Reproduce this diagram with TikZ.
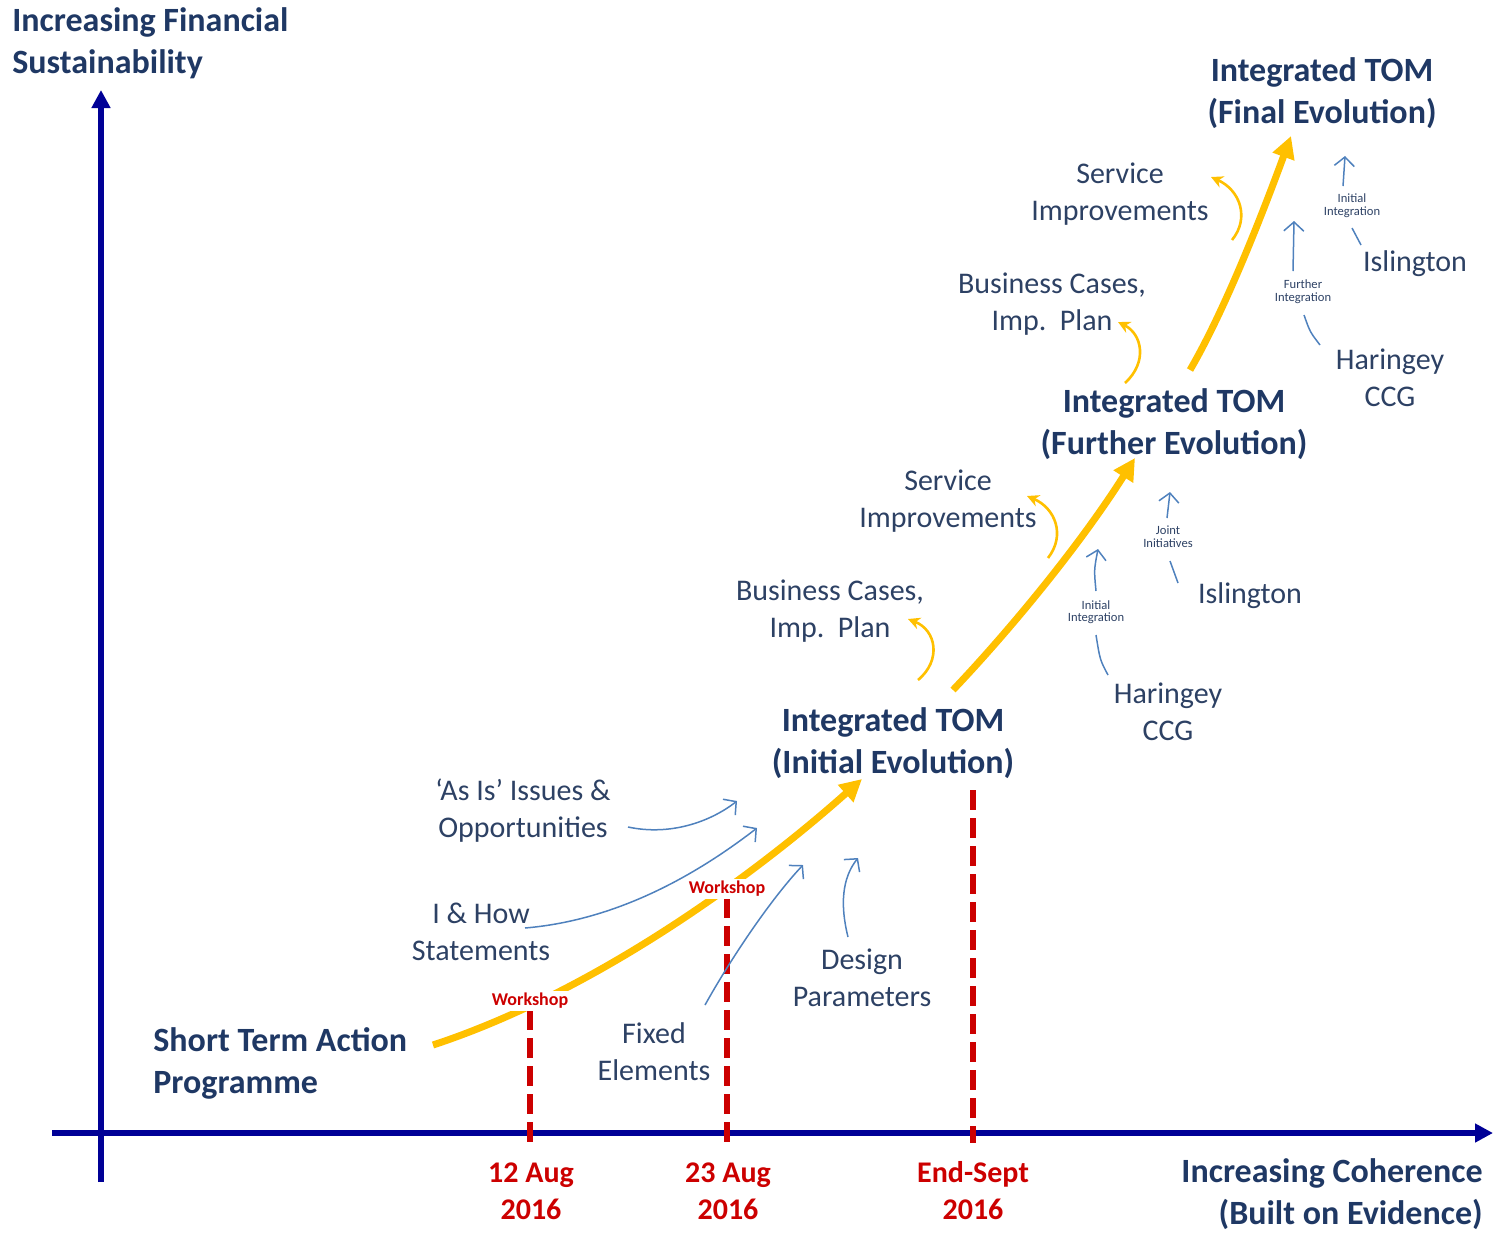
\documentclass[tikz,border=0pt]{standalone}
\usepackage{fontspec}
\setmainfont{Carlito}
\usetikzlibrary{arrows.meta}
\definecolor{navy}{RGB}{31,56,100}
\definecolor{lbl}{RGB}{45,65,100}
\definecolor{axisblue}{RGB}{0,0,150}
\definecolor{dred}{RGB}{204,0,0}
\definecolor{gold}{RGB}{255,192,0}
\definecolor{thinblue}{RGB}{79,129,189}
\tikzset{
  big/.style={font=\fontsize{17}{21}\selectfont\bfseries, text=navy, align=center, inner sep=0pt},
  lab/.style={font=\fontsize{15}{18.5}\selectfont, text=lbl, align=center, inner sep=0pt},
  datelab/.style={font=\fontsize{15}{18.5}\selectfont\bfseries, text=dred, align=center, inner sep=0pt},
  wslab/.style={font=\fontsize{9}{9}\selectfont\bfseries, text=dred, fill=white, inner sep=1pt},
  tiny/.style={font=\fontsize{6.3}{6.3}\selectfont, text=lbl, align=center, inner sep=0pt},
  axisline/.style={draw=axisblue, line width=3pt, -{Triangle[length=9pt,width=9pt]}},
  dashline/.style={draw=dred, line width=3pt, dash pattern=on 10pt off 4pt},
  mainarrow/.style={draw=gold, line width=3.5pt, -{Triangle[length=11pt,width=11pt]}},
  smallarrow/.style={draw=gold, line width=1.3pt, -{Stealth[length=6pt,width=6pt]}},
  bluearrow/.style={draw=thinblue, line width=0.75pt, -{Straight Barb[length=4.5pt,width=10pt]}},
  blueline/.style={draw=thinblue, line width=0.75pt},
}
\begin{document}
\begin{tikzpicture}[x=0.5pt,y=-0.5pt]
\useasboundingbox (0,0) rectangle (1493,1232);

% axes
\coordinate (ybot) at (101,1182);
\coordinate (ytop) at (101,90);
\coordinate (xleft) at (52,1133);
\coordinate (xright) at (1493,1133);
\draw[axisline] (ybot) -- (ytop);
\draw[axisline] (xleft) -- (xright);

% axis titles
\node[big, anchor=west, align=left] (ytitle) at (12,43) {Increasing Financial\\Sustainability};
\node[big, anchor=east, align=right] (xtitle) at (1483,1194) {Increasing Coherence\\(Built on Evidence)};

% dates
\node[datelab] (d1) at (531,1191) {12 Aug\\2016};
\node[datelab] (d2) at (728,1191) {23 Aug\\2016};
\node[datelab] (d3) at (973,1191) {End-Sept\\2016};

% dashed lines
\coordinate (w1) at (530,1010);
\coordinate (w2) at (727,898);
\coordinate (w3) at (973,790);
\coordinate (b1) at (530,1143);
\coordinate (b2) at (727,1143);
\coordinate (b3) at (973,1143);
\draw[dashline] (w1) -- (b1);
\draw[dashline] (w2) -- (b2);
\draw[dashline] (w3) -- (b3);

% main yellow arrows
\coordinate (m1s) at (433,1045);
\coordinate (m1e) at (862,779);
\draw[mainarrow] (m1s) .. controls (600,990) and (760,870) .. (m1e);
\coordinate (m2s) at (953,690);
\coordinate (m2e) at (1135,458);
\draw[mainarrow] (m2s) .. controls (1010,630) and (1080,545) .. (m2e);
\coordinate (m3s) at (1190,370);
\coordinate (m3e) at (1291,136);
\draw[mainarrow] (m3s) .. controls (1225,310) and (1262,215) .. (m3e);

% workshop labels
\node[wslab] (ws1) at (530,1001) {Workshop};
\node[wslab] (ws2) at (727,889) {Workshop};

% main labels
\node[big, anchor=west, align=left] (stap) at (153,1063) {Short Term Action\\Programme};
\node[big] (tom1) at (893,743) {Integrated TOM\\(Initial Evolution)};
\node[big] (tom2) at (1174,424) {Integrated TOM\\(Further Evolution)};
\node[big] (tom3) at (1322,93) {Integrated TOM\\(Final Evolution)};

% lower labels
\node[lab] (asis) at (523,811) {`As Is' Issues \&\\Opportunities};
\node[lab] (ihow) at (481,932) {I \& How\\Statements};
\node[lab] (fixed) at (654,1052) {Fixed\\Elements};
\node[lab] (design) at (862,978) {Design\\Parameters};

\coordinate (a1s) at (628,827); \coordinate (a1e) at (737,801);
\coordinate (a2s) at (525,928); \coordinate (a2e) at (757,828);
\coordinate (a3s) at (705,1005); \coordinate (a3e) at (803,865);
\coordinate (a4s) at (848,937); \coordinate (a4e) at (858,858);
\draw[bluearrow] (a1s) .. controls (670,836) and (710,822) .. (a1e);
\draw[bluearrow] (a2s) .. controls (620,920) and (700,872) .. (a2e);
\draw[bluearrow] (a3s) .. controls (730,960) and (770,900) .. (a3e);
\draw[bluearrow] (a4s) .. controls (840,905) and (842,878) .. (a4e);

% middle labels
\node[lab] (bc1) at (830,611) {Business Cases,\\Imp.\ \ Plan};
\node[lab] (si1) at (948,501) {Service\\Improvements};
\node[lab] (har1) at (1168,712) {Haringey\\CCG};
\node[lab] (isl1) at (1250,596) {Islington};
\node[tiny] (ii1) at (1096,612) {Initial\\Integration};
\node[tiny] (ji1) at (1168,537) {Joint\\Initiatives};

\coordinate (y1s) at (918,680); \coordinate (y1e) at (908,619);
\coordinate (y2s) at (1048,558); \coordinate (y2e) at (1027,496);
\draw[smallarrow] (y1s) .. controls (942,660) and (936,630) .. (y1e);
\draw[smallarrow] (y2s) .. controls (1066,535) and (1055,508) .. (y2e);

\coordinate (h1a) at (1108,675); \coordinate (h1b) at (1096,635);
\coordinate (h1c) at (1096,591); \coordinate (h1d) at (1098,549);
\draw[blueline] (h1a) .. controls (1100,660) .. (h1b);
\draw[bluearrow] (h1c) .. controls (1094,570) .. (h1d);
\coordinate (i1a) at (1178,583); \coordinate (i1b) at (1170,561);
\coordinate (i1c) at (1167,518); \coordinate (i1d) at (1170,492);
\draw[blueline] (i1a) -- (i1b);
\draw[bluearrow] (i1c) -- (i1d);

% upper labels
\node[lab] (bc2) at (1052,304) {Business Cases,\\Imp.\ \ Plan};
\node[lab] (si2) at (1120,194) {Service\\Improvements};
\node[lab] (har2) at (1390,378) {Haringey\\CCG};
\node[lab] (isl2) at (1415,264) {Islington};
\node[tiny] (fi2) at (1303,292) {Further\\Integration};
\node[tiny] (ii2) at (1352,206) {Initial\\Integration};

\coordinate (y3s) at (1125,383); \coordinate (y3e) at (1118,322);
\coordinate (y4s) at (1232,240); \coordinate (y4e) at (1211,177);
\draw[smallarrow] (y3s) .. controls (1148,362) and (1142,334) .. (y3e);
\draw[smallarrow] (y4s) .. controls (1250,218) and (1240,190) .. (y4e);

\coordinate (h2a) at (1320,345); \coordinate (h2b) at (1304,315);
\coordinate (h2c) at (1293,271); \coordinate (h2d) at (1294,221);
\draw[blueline] (h2a) .. controls (1310,332) .. (h2b);
\draw[bluearrow] (h2c) -- (h2d);
\coordinate (i2a) at (1361,245); \coordinate (i2b) at (1352,228);
\coordinate (i2c) at (1343,186); \coordinate (i2d) at (1345,156);
\draw[blueline] (i2a) -- (i2b);
\draw[bluearrow] (i2c) -- (i2d);
\end{tikzpicture}
\end{document}
